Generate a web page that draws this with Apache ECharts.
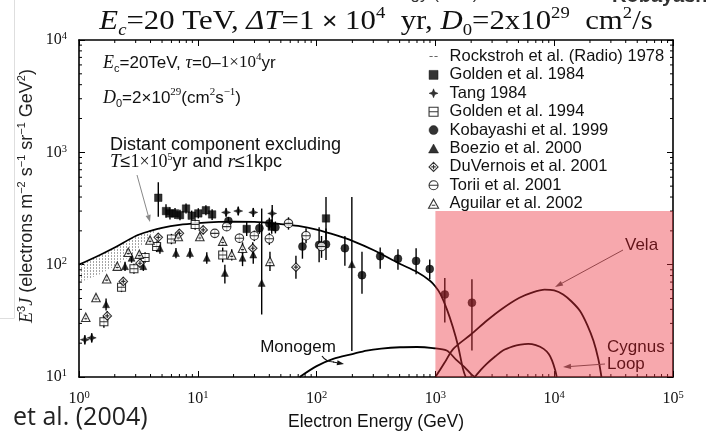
<!DOCTYPE html>
<html><head><meta charset="utf-8">
<script src="https://cdn.jsdelivr.net/npm/echarts@6/dist/echarts.min.js"></script>
<style>html,body{margin:0;padding:0;background:#fff}#c{width:706px;height:436px}</style>
</head><body><div id="c"></div>
<script>
// ---------- axis tick labels (exponents of 10) ----------
const xTickExp = ['0','1','2','3','4','5'];
const yTickExp = ['1','2','3','4'];

// ---------- model curves ----------
const mainCurveE = [1,1.5,2,3,4,5,7,10,15,20,30,50,70,100,150,200,300,500,700,900,1000,1100,1250,1400,1550,1700,1800];
const mainCurveF = [100,122,142,180,200,213,226,234,240,241,240,230,221,205,181,163,135,102,86,72,64,55,40,28,19,12,10];

const monogemE = [72,100,138,200,264,350,504,700,955,1245,1500,1750,2000,2150];
const monogemF = [10,12.5,14.5,16,17.2,17.9,18.4,18.5,18.1,17.2,14.2,12.3,10.6,10];

const velaE = [1000,1200,1415,2000,2700,3700,5100,6500,8300,10000,11900,14000,16500,19000,21400,23500,25000];
const velaF = [10,13.5,17.8,24,31.7,41,50.8,56.5,60,59,54.3,47,38.7,29,21,14.5,10];

const cygnusE = [2150,2400,2700,3200,3700,4500,5200,6050,7000,8150,9000,9600,10200,10500];
const cygnusF = [10,11.5,13.1,15.3,17.2,18.7,19.4,19.7,19.2,17.8,16,14,11.5,10];

// radio band (Rockstroh) : upper / lower edge
const bandE     = [1,1.5,2,2.5,3,3.5,4,4.5,5];
const bandUpper = [100,122,142,163,180,192,200,207,213];
const bandLower = [69,82,97,113,130,155,184,200,211];

// highlighted region [E from, E to, F from, F to]
const pinkRegion = [1000, 100000, 10, 300];

// ---------- measurements: [E, value, errLow, errHigh] ----------
const golden1984 = [[4.65,394,267,541],[5.4,300,262,345],[5.83,286,252,325],[6.43,286,255,320],[7.08,276,248,308],[7.96,316,285,350],[8.88,273,246,303],[10.1,286,258,318],[11.7,305,275,338],[13.2,280,250,312],[25.8,208,180,240],[41.9,218,188,252],[120,258,167,400]];
const tang1984 = [[1.12,21.5,19.5,23.5],[1.28,22.3,20.3,24.5],[17.3,292,268,318],[21.9,300,275,328],[29.3,292,266,320],[42.3,286,240,340]];
const golden1994 = [[1.62,31,27.5,35],[2.28,63,57,70],[2.9,92,83,102],[3.6,116,104,129],[4.5,145,130,161],[6.0,169,152,188],[9.5,228,205,252],[16.2,122,105,142]];
const kobayashi1999 = [[18.1,245,225,265],[33,211,188,236],[40,233,205,262],[45,215,190,242],[76,145,113,190],[105,150,105,215],[120,152,110,210],[173,140,98,180],[241,80.5,55,130],[343,119,92,142],[484,113,90,137],[688,108,82,140],[896,91.5,74,111],[1200,54.3,30.5,76],[2030,45.9,17.2,74]];
const boezio2000 = [[1.69,44.4,39,50],[2.44,97,88,106],[2.77,115,104,126],[3.48,97,88,107],[4.8,140,125,156],[6.55,127,114,141],[8.6,127,114,141],[11.9,115,102,129],[16.9,84.5,68,100],[23.8,115,97,135],[29.3,123,102,147],[34.5,68.8,36,316],[198,101,17,400]];
const duvernois2001 = [[1.73,35,32,38.5],[2.36,71,65,77],[3.26,103,95,112],[4.65,175,160,190],[7.0,190,174,207],[11.1,204,187,222],[29,140,124,158],[67,95,75,120]];
const torii2001 = [[13.9,190,176,205],[17.5,218,200,236],[22.4,172,156,189],[29.9,181,162,201],[40,170,150,192],[58,233,205,264],[81.5,181,155,211],[110,145,115,180]];
const aguilar2002 = [[1.14,34,32,36],[1.39,51,48,54],[1.71,75,71,79],[2.1,97,92,102],[2.6,129,122,136],[3.22,124,117,131],[3.96,166,156,176],[6.85,178,166,190],[10.4,178,165,192],[16.2,162,148,177],[19.3,122,109,137],[23.8,140,124,158],[40.5,107,88,130]];

const legendNames = ['Rockstroh et al. (Radio) 1978','Golden et al. 1984','Tang 1984','Golden et al. 1994','Kobayashi et al. 1999','Boezio et al. 2000','DuVernois et al. 2001','Torii et al. 2001','Aguilar et al. 2002'];

// ---------- drawing ----------
const SYM = {
  dash: 'path://M0,0M10,10M0.5,4.5H4V5.5H0.5Z M6,4.5H9.5V5.5H6Z',
  sq: 'path://M0,0H10V10H0Z',
  star: 'path://M5,0L6.4,3.6L10,5L6.4,6.4L5,10L3.6,6.4L0,5L3.6,3.6Z',
  sqLine: 'path://M0,0H10V10H0Z M0,5H10',
  circ: 'path://M0,5A5,5,0,1,1,10,5A5,5,0,1,1,0,5Z',
  tri: 'path://M5,0L10,9L0,9Z',
  diaX: 'path://M5,0L10,5L5,10L0,5Z M5,2.5V7.5 M2.5,5H7.5',
  circLine: 'path://M0,5A5,5,0,1,1,10,5A5,5,0,1,1,0,5Z M0,5H10',
  triOpen: 'path://M5,0L10,9L0,9Z M3.2,6H6.8'
};
const filled = {color:'#000', borderColor:'#000', borderWidth:0.5};
const open = {color:'#fff', borderColor:'#000', borderWidth:1.1};

const datasets = [
  {name: legendNames[1], data: golden1984, sym: SYM.sq, size: 7.5, st: filled},
  {name: legendNames[2], data: tang1984, sym: SYM.star, size: 9, st: filled},
  {name: legendNames[3], data: golden1994, sym: SYM.sqLine, size: 8, st: open},
  {name: legendNames[4], data: kobayashi1999, sym: SYM.circ, size: 8, st: filled},
  {name: legendNames[5], data: boezio2000, sym: SYM.tri, size: 7, st: filled},
  {name: legendNames[6], data: duvernois2001, sym: SYM.diaX, size: 8.5, st: open},
  {name: legendNames[7], data: torii2001, sym: SYM.circLine, size: 8.5, st: open},
  {name: legendNames[8], data: aguilar2002, sym: SYM.triOpen, size: 8.5, st: open}
];

const pc = document.createElement('canvas'); pc.width = 3; pc.height = 3;
const pg = pc.getContext('2d'); pg.fillStyle = '#a6a6a6'; pg.fillRect(0,0,1,2);

const zip = (a,b) => a.map((v,i)=>[v,b[i]]);
const minorX = [], minorY = [];
for (let e = 0; e < 5; e++) for (let m = 2; m <= 9; m++) minorX.push(m*Math.pow(10,e));
for (let e = 1; e < 4; e++) for (let m = 2; m <= 9; m++) minorY.push(m*Math.pow(10,e));

const SERIF = 'Liberation Serif', SANS = 'Liberation Sans';
const axisRich = {
  b: {fontFamily: SERIF, fontSize: 16, lineHeight: 18, color:'#111'},
  s: {fontFamily: SERIF, fontSize: 10.5, lineHeight: 9, verticalAlign:'top', color:'#111'}
};
const lineCurve = (name, data, z) => ({type:'line', name, data, showSymbol:false, symbol:'none', smooth:0.3, lineStyle:{color:'#000', width:1.8}, z, silent:true, clip:true});

const series = [];
series.push({
  type:'custom', name: legendNames[0], data: [[bandE[0], bandUpper[0]]], z:1, silent:true,
  itemStyle:{color:'#777'},
  renderItem: (p, api) => {
    const pts = [];
    bandE.forEach((e,i) => pts.push(api.coord([e, bandUpper[i]])));
    for (let i = bandE.length-1; i >= 0; i--) pts.push(api.coord([bandE[i], bandLower[i]]));
    return {type:'polygon', shape:{points: pts}, style:{fill:{image: pc, repeat:'repeat'}, stroke:null}};
  }
});
series.push(lineCurve('main', zip(mainCurveE, mainCurveF), 2));
series.push(lineCurve('Monogem', zip(monogemE, monogemF), 2));
series.push(lineCurve('Vela', zip(velaE, velaF), 2));
series.push(lineCurve('Cygnus Loop', zip(cygnusE, cygnusF), 2));
datasets.forEach(ds => {
  series.push({
    type:'custom', name: ds.name + ' err', data: ds.data.map(r => [r[0], r[2], r[3]]), encode:{x:0, y:[1,2]},
    z:3, silent:true, clip:true,
    renderItem: (p, api) => {
      const a = api.coord([api.value(0), api.value(1)]), b = api.coord([api.value(0), api.value(2)]);
      return {type:'line', shape:{x1:a[0], y1:a[1], x2:b[0], y2:b[1]}, style:{stroke:'#000', lineWidth:1.4}};
    }
  });
  series.push({
    type:'scatter', name: ds.name, data: ds.data.map(r => [r[0], r[1]]), symbol: ds.sym, symbolSize: ds.size,
    itemStyle: ds.st, z:4, silent:true
  });
});
// minor ticks on the frame
series.push({
  type:'custom', name:'minorX', data: minorX.map(v => [v, 10]), z:5, silent:true, clip:false,
  renderItem: (p, api) => {
    const v = api.value(0), b = api.coord([v, 10]), t = api.coord([v, 10000]);
    return {type:'group', children:[
      {type:'line', shape:{x1:b[0], y1:b[1], x2:b[0], y2:b[1]-3}, style:{stroke:'#000', lineWidth:1}},
      {type:'line', shape:{x1:t[0], y1:t[1], x2:t[0], y2:t[1]+3}, style:{stroke:'#000', lineWidth:1}}]};
  }
});
series.push({
  type:'custom', name:'minorY', data: minorY.map(v => [1, v]), z:5, silent:true, clip:false,
  renderItem: (p, api) => {
    const v = api.value(1), l = api.coord([1, v]), r = api.coord([100000, v]);
    return {type:'group', children:[
      {type:'line', shape:{x1:l[0], y1:l[1], x2:l[0]+3, y2:l[1]}, style:{stroke:'#000', lineWidth:1}},
      {type:'line', shape:{x1:r[0], y1:r[1], x2:r[0]-3, y2:r[1]}, style:{stroke:'#000', lineWidth:1}}]};
  }
});
// pink translucent overlay
series.push({
  type:'custom', name:'highlight', data:[pinkRegion], z:10, silent:true, clip:false,
  renderItem: (p, api) => {
    const a = api.coord([api.value(0), api.value(2)]), b = api.coord([api.value(1), api.value(3)]);
    return {type:'rect', shape:{x:a[0], y:b[1], width:b[0]-a[0], height:a[1]-b[1]}, style:{fill:'rgba(236,47,59,0.42)'}};
  }
});

const legendIcons = [SYM.dash, SYM.sq, SYM.star, SYM.sqLine, SYM.circ, SYM.tri, SYM.diaX, SYM.circLine, SYM.triOpen];
const legendStyles = [{color:'#666', borderWidth:0}, filled, filled, open, filled, filled, open, open, open];

function arrow(x1, y1, x2, y2, color, w, z, head) {
  const ang = Math.atan2(y2-y1, x2-x1), L = head || 7, W = 2.6;
  const bx = x2 - L*Math.cos(ang), by = y2 - L*Math.sin(ang);
  const px = -Math.sin(ang)*W, py = Math.cos(ang)*W;
  return [
    {type:'line', z, shape:{x1, y1, x2:bx, y2:by}, style:{stroke:color, lineWidth:w}},
    {type:'polygon', z, shape:{points:[[x2,y2],[bx+px,by+py],[bx-px,by-py]]}, style:{fill:color}}
  ];
}

const richBox = {
  it: {fontFamily: SERIF, fontStyle:'italic', fontSize: 18, lineHeight: 22},
  n: {fontFamily: SANS, fontSize: 17, lineHeight: 22},
  sr: {fontFamily: SERIF, fontSize: 17, lineHeight: 22},
  sub: {fontFamily: SANS, fontSize: 11, lineHeight: 10, verticalAlign:'bottom'},
  sup: {fontFamily: SERIF, fontSize: 11, lineHeight: 10, verticalAlign:'top'}
};

const graphic = [
  {type:'text', x: 376, y: 22, z: 20, scaleX: 1.1, style:{
    text:'{it|E}{sb|c}{rm|=20 TeV, }{it|ΔT}{rm|=1 }{x|×}{rm| 10}{sp|4}{rm|  yr, }{it|D}{sb2|0}{rm|=2x10}{sp|29}{rm|  cm}{sp|2}{rm|/s}',
    align:'center', verticalAlign:'middle', fill:'#111',
    rich:{
      it:{fontFamily:SERIF, fontStyle:'italic', fontSize:28, lineHeight:34},
      rm:{fontFamily:SERIF, fontSize:28, lineHeight:34},
      x:{fontFamily:SANS, fontSize:24, lineHeight:34},
      sb:{fontFamily:SERIF, fontStyle:'italic', fontSize:17, lineHeight:12, verticalAlign:'bottom'},
      sb2:{fontFamily:SERIF, fontSize:17, lineHeight:12, verticalAlign:'bottom'},
      sp:{fontFamily:SERIF, fontSize:17, lineHeight:14, verticalAlign:'top'}
    }}},
  {type:'text', x: 393, y: -6, z: 20, style:{text:'Electron Energy (GeV)', font:'17px "Liberation Sans"', fill:'#333', align:'center', verticalAlign:'middle'}},
  {type:'text', x: 612, y: -4, z: 20, style:{text:'Kobayashi', font:'bold 20px "Liberation Sans"', fill:'#333', align:'left', verticalAlign:'middle'}},
  {type:'text', x: 27, y: 196, rotation: Math.PI/2, z: 20, style:{
    text:'{it|E}{sp|3}{it|J}{n| (electrons m}{sp|−2}{n| s}{sp|−1}{n| sr}{sp|−1}{n| GeV}{sp|2}{n|)}',
    align:'center', verticalAlign:'middle', fill:'#222',
    rich:{
      it:{fontFamily:SERIF, fontStyle:'italic', fontSize:18, lineHeight:22},
      n:{fontFamily:SANS, fontSize:18, lineHeight:22},
      sp:{fontFamily:SANS, fontSize:11, lineHeight:11, verticalAlign:'top'}
    }}},
  {type:'text', x: 103, y: 63, z: 20, style:{
    text:'{it|E}{sub|c}{n|=20TeV, }{it|τ}{n|=0–}{sr|1×10}{sup|4}{n|yr}', align:'left', verticalAlign:'middle', fill:'#111', rich: richBox}},
  {type:'text', x: 103, y: 98, z: 20, style:{
    text:'{it|D}{sub|0}{n|=2×10}{sup|29}{n|(cm}{sup|2}{n|s}{sup|−1}{n|)}', align:'left', verticalAlign:'middle', fill:'#111', rich: richBox}},
  {type:'text', x: 110, y: 145, z: 20, style:{text:'Distant component excluding', font:'18px "Liberation Sans"', fill:'#111', align:'left', verticalAlign:'middle'}},
  {type:'text', x: 110, y: 162, z: 20, style:{
    text:'{it|T}{n|≤}{sr|1×10}{sup|5}{n|yr and }{it|r}{n|≤}{sr|1}{n|kpc}', align:'left', verticalAlign:'middle', fill:'#111',
    rich:{
      it:{fontFamily:SERIF, fontStyle:'italic', fontSize:19, lineHeight:20},
      n:{fontFamily:SANS, fontSize:18, lineHeight:20},
      sr:{fontFamily:SERIF, fontSize:18, lineHeight:20},
      sup:{fontFamily:SERIF, fontSize:10, lineHeight:9, verticalAlign:'top'}
    }}},
  ...arrow(137, 175, 150, 222, '#888', 1, 20, 7),
  {type:'text', x: 298, y: 347, z: 3, style:{text:'Monogem', font:'17px "Liberation Sans"', fill:'#111', align:'center', verticalAlign:'middle'}},
  {type:'bezierCurve', z: 3, shape:{x1:322, y1:356, x2:334, y2:362, cpx1:326, cpy1:362}, style:{stroke:'#111', lineWidth:1.2, fill:null}},
  ...arrow(333, 362, 344, 364, '#111', 1.2, 3, 7),
  {type:'text', x: 625, y: 245, z: 3, style:{text:'Vela', font:'17px "Liberation Sans"', fill:'#000', align:'left', verticalAlign:'middle'}},
  ...arrow(623, 250, 555, 287, '#555', 1, 3, 8),
  {type:'text', x: 607, y: 347, z: 3, style:{text:'Cygnus', font:'17px "Liberation Sans"', fill:'#000', align:'left', verticalAlign:'middle'}},
  {type:'text', x: 607, y: 364, z: 3, style:{text:'Loop', font:'17px "Liberation Sans"', fill:'#000', align:'left', verticalAlign:'middle'}},
  ...arrow(605, 364, 563, 367, '#555', 1, 3, 8),
  {type:'text', x: 13, y: 418, z: 20, style:{text:'et al. (2004)', font:'25px "Open Sans"', fill:'#222', align:'left', verticalAlign:'middle'}},
  {type:'line', z: 0, shape:{x1:14.5, y1:0, x2:14.5, y2:318}, style:{stroke:'#dedede', lineWidth:1}},
  {type:'line', z: 0, shape:{x1:0, y1:318.5, x2:14.5, y2:318.5}, style:{stroke:'#dedede', lineWidth:1}}
];

const baseAxis = {
  type:'log', logBase:10, splitLine:{show:false},
  axisLine:{lineStyle:{color:'#000', width:1.6}},
  axisTick:{inside:true, length:6, lineStyle:{color:'#000', width:1}}
};

const chart = echarts.init(document.getElementById('c'));
chart.setOption({
  animation:false,
  backgroundColor:'#fff',
  grid:{left:79, top:40, right:33, bottom:56, containLabel:false},
  xAxis:[
    Object.assign({}, baseAxis, {min:1, max:100000, position:'bottom',
      axisLabel:{margin:13, formatter:(v, i) => '{b|10}{s|' + xTickExp[i] + '}', rich: axisRich},
      name:'Electron Energy (GeV)', nameLocation:'middle', nameGap:36,
      nameTextStyle:{fontFamily:SANS, fontSize:17.5, color:'#111'}}),
    Object.assign({}, baseAxis, {min:1, max:100000, position:'top', axisLabel:{show:false}})
  ],
  yAxis:[
    Object.assign({}, baseAxis, {min:10, max:10000, position:'left',
      axisLabel:{margin:12, formatter:(v, i) => '{b|10}{s|' + yTickExp[i] + '}', rich: axisRich}}),
    Object.assign({}, baseAxis, {min:10, max:10000, position:'right', axisLabel:{show:false}})
  ],
  legend:{
    orient:'vertical', left:423, top:43, padding:5, itemWidth:22, itemHeight:9, itemGap:1.4,
    selectedMode:false, textStyle:{fontFamily:SANS, fontSize:16.5, color:'#111'},
    data: legendNames.map((n, i) => ({name:n, icon: legendIcons[i], itemStyle: legendStyles[i]}))
  },
  series,
  graphic
});
</script>
</body></html>
